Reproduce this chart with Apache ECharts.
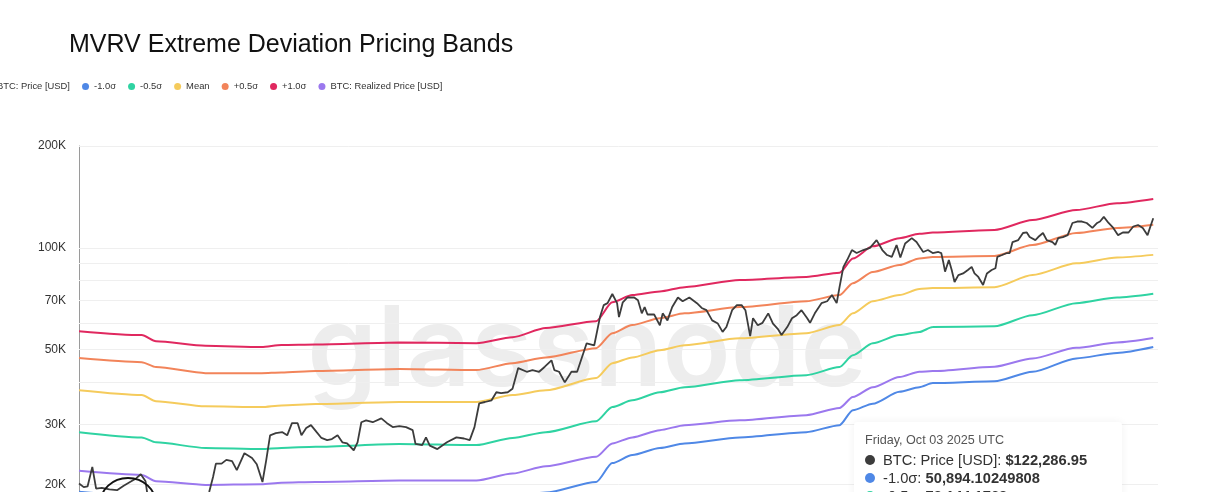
<!DOCTYPE html>
<html>
<head>
<meta charset="utf-8">
<script src="https://cdn.jsdelivr.net/npm/echarts@6/dist/echarts.min.js"></script>
<style>
html,body{margin:0;padding:0;background:#fff;overflow:hidden;}
#chart{width:1226px;height:650px;}
</style>
</head>
<body>
<div id="chart"></div>
<script>
// ---- data ----
const priceDates = ['2022-08-30','2022-09-04','2022-09-08','2022-09-13','2022-09-17','2022-09-23','2022-10-01','2022-10-09','2022-10-16','2022-10-24','2022-10-29','2022-11-03','2022-11-08','2022-11-12','2022-11-20','2022-12-03','2022-12-19','2023-01-01','2023-01-09','2023-01-14','2023-01-18','2023-01-21','2023-01-27','2023-02-01','2023-02-07','2023-02-12','2023-02-20','2023-02-28','2023-03-05','2023-03-11','2023-03-15','2023-03-19','2023-03-25','2023-04-01','2023-04-06','2023-04-11','2023-04-17','2023-04-21','2023-04-26','2023-05-01','2023-05-07','2023-05-12','2023-05-18','2023-05-23','2023-05-29','2023-06-03','2023-06-08','2023-06-15','2023-06-19','2023-06-23','2023-06-28','2023-07-05','2023-07-14','2023-07-20','2023-07-26','2023-08-02','2023-08-09','2023-08-16','2023-08-19','2023-08-26','2023-08-30','2023-09-03','2023-09-11','2023-09-21','2023-10-01','2023-10-09','2023-10-15','2023-10-20','2023-10-25','2023-10-31','2023-11-07','2023-11-12','2023-11-17','2023-11-24','2023-11-29','2023-12-05','2023-12-14','2023-12-20','2023-12-27','2024-01-02','2024-01-09','2024-01-12','2024-01-17','2024-01-23','2024-01-30','2024-02-05','2024-02-10','2024-02-15','2024-02-23','2024-02-29','2024-03-04','2024-03-08','2024-03-13','2024-03-18','2024-03-20','2024-03-24','2024-03-29','2024-04-05','2024-04-09','2024-04-13','2024-04-16','2024-04-19','2024-04-26','2024-05-02','2024-05-05','2024-05-10','2024-05-15','2024-05-21','2024-05-26','2024-06-02','2024-06-10','2024-06-15','2024-06-20','2024-06-26','2024-07-02','2024-07-07','2024-07-11','2024-07-17','2024-07-22','2024-07-27','2024-07-31','2024-08-05','2024-08-08','2024-08-13','2024-08-18','2024-08-24','2024-08-29','2024-09-03','2024-09-07','2024-09-13','2024-09-18','2024-09-23','2024-09-28','2024-10-04','2024-10-07','2024-10-12','2024-10-19','2024-10-25','2024-10-30','2024-11-04','2024-11-07','2024-11-11','2024-11-15','2024-11-20','2024-11-25','2024-12-02','2024-12-09','2024-12-16','2024-12-22','2024-12-27','2025-01-01','2025-01-06','2025-01-10','2025-01-15','2025-01-22','2025-01-27','2025-01-31','2025-02-03','2025-02-08','2025-02-13','2025-02-19','2025-02-22','2025-02-24','2025-02-26','2025-03-02','2025-03-05','2025-03-08','2025-03-12','2025-03-17','2025-03-22','2025-03-26','2025-03-29','2025-04-02','2025-04-07','2025-04-11','2025-04-16','2025-04-20','2025-04-22','2025-04-27','2025-05-02','2025-05-05','2025-05-08','2025-05-14','2025-05-19','2025-05-23','2025-05-26','2025-06-01','2025-06-04','2025-06-09','2025-06-13','2025-06-19','2025-06-22','2025-06-25','2025-06-30','2025-07-05','2025-07-10','2025-07-15','2025-07-20','2025-07-25','2025-07-31','2025-08-05','2025-08-08','2025-08-12','2025-08-17','2025-08-22','2025-08-27','2025-09-01','2025-09-07','2025-09-12','2025-09-17','2025-09-22','2025-09-27','2025-09-30','2025-10-03'];
const priceValues = [20100,19600,19700,22500,19400,19500,19300,19200,19800,20400,20800,21400,20400,17000,16600,16900,16800,16600,17300,19000,21000,23000,23000,23600,23400,22000,24700,23900,22900,20300,23600,27900,28300,28500,27900,30300,30300,27900,29300,29900,28500,27400,27000,27200,27900,26600,26400,25200,26600,30500,30900,30500,31300,30300,29500,29700,29500,28900,26300,26100,27500,26000,25400,26600,27500,27300,27000,29500,34700,35000,35400,37400,37200,37400,38300,44100,43000,43500,43000,44500,46500,43500,43000,40000,43000,43000,47400,52200,51500,62400,67700,68600,73000,68600,62400,69000,71300,71300,70000,64000,66800,63500,63500,59000,64000,61000,66800,71300,69500,71300,68600,66400,65400,61000,59700,56400,58300,65400,67700,67700,65400,54800,61900,59000,60000,64000,59700,57600,55200,58300,61900,63200,65400,61900,60000,64000,68600,69500,72500,68600,76500,87700,92000,98500,96500,98500,100000,105400,98500,95200,94000,101900,93600,103000,106800,104000,100000,97200,98500,96500,97200,96500,91000,85000,92000,86000,79200,83000,84000,86000,87800,84000,82000,77600,84000,86000,87000,94000,95200,96500,96500,104000,105400,110600,111000,107600,105400,107600,110600,105400,104000,102000,106800,107600,109000,118400,119600,119600,118400,114500,118400,119600,123400,118400,114500,109000,111000,111000,115600,116800,114500,109000,115600,122286.95];

const bandDates = ['2022-08-30','2022-11-04','2022-11-19','2023-01-10','2023-03-10','2023-03-31','2023-05-06','2023-08-02','2023-10-22','2023-11-29','2024-01-03','2024-02-25','2024-03-13','2024-04-03','2024-05-02','2024-05-28','2024-07-25','2024-10-03','2024-11-07','2024-11-21','2024-12-12','2025-01-09','2025-01-30','2025-02-13','2025-04-19','2025-05-29','2025-07-14','2025-08-26','2025-10-03'];
const minus1Values   = [19000,18500,17900,17200,17300,17400,17500,17700,17800,18500,18900,20300,23100,24400,25600,26400,27500,28500,29900,33100,34600,37500,38700,39800,40300,43000,47100,48900,50894.10249808];
const minus05Values  = [28500,27500,26600,25600,25400,25600,25800,26300,26100,27400,28500,30700,33800,35400,37400,38700,40600,42000,44400,48100,52200,55200,56400,58300,58600,63200,68600,71300,73144.1768];
const meanValues     = [37900,36700,35200,34000,33800,34200,34500,35000,35000,36700,37900,41200,45600,47400,49800,51500,54000,55900,59100,64000,69500,72500,75500,76000,76500,83100,90000,93600,95300];
const plus05Values   = [47200,45900,44400,42600,42600,42800,43200,43800,43500,45600,47400,50500,55900,59100,61900,64000,66800,69500,72500,78600,84800,88900,93000,94000,94600,101900,110600,114500,117000];
const plus1Values    = [56700,55200,52900,51300,50900,51600,51800,52500,52200,54400,57900,60700,69000,72500,74300,76500,80300,82000,84400,93000,101000,106800,110000,111000,112900,120800,129300,135500,139500];
const realizedValues = [21900,21300,20400,19900,20000,20200,20300,20500,20500,21500,22600,24100,26400,27500,28900,29900,30900,32000,33600,36200,38700,41500,43000,43200,44500,47100,50600,52500,54100];

const yTickLabels = [20000, 30000, 50000, 70000, 100000, 200000];
const gridValues  = [20000, 30000, 40000, 50000, 60000, 70000, 80000, 90000, 100000, 200000];

const seriesNames = ['BTC: Price [USD]', '-1.0σ', '-0.5σ', 'Mean', '+0.5σ', '+1.0σ', 'BTC: Realized Price [USD]'];
const seriesColors = ['#3c3c3c', '#4f88e6', '#2fd3a2', '#f5cb5c', '#f2845a', '#e0285f', '#9b78ee'];

// ---- chart ----
const FONT = "'Liberation Sans', Arial, Helvetica, sans-serif";
const chart = echarts.init(document.getElementById('chart'), null, {renderer: 'canvas'});

function pair(dates, vals) { return dates.map((d, i) => [d, vals[i]]); }
const bandSets = [minus1Values, minus05Values, meanValues, plus05Values, plus1Values];

const series = [];
series.push({
  name: seriesNames[0], type: 'line', data: pair(priceDates, priceValues),
  symbol: 'none', z: 4,
  lineStyle: {width: 1.8, color: seriesColors[0]}, itemStyle: {color: seriesColors[0]},
  emphasis: {disabled: true}
});
bandSets.forEach((vals, k) => {
  series.push({
    name: seriesNames[k + 1], type: 'line', data: pair(bandDates, vals),
    symbol: 'none', z: 3, smooth: 0.25, smoothMonotone: 'x',
    lineStyle: {width: 2, color: seriesColors[k + 1]}, itemStyle: {color: seriesColors[k + 1]},
    emphasis: {disabled: true}
  });
});
series.push({
  name: seriesNames[6], type: 'line', data: pair(bandDates, realizedValues),
  symbol: 'none', z: 3, smooth: 0.25, smoothMonotone: 'x',
  lineStyle: {width: 2, color: seriesColors[6]}, itemStyle: {color: seriesColors[6]},
  emphasis: {disabled: true}
});
// grid lines
series.push({
  name: '__grid', type: 'line', data: [], silent: true, z: 1,
  markLine: {
    silent: true, symbol: 'none', z: 1, animation: false,
    label: {show: false},
    lineStyle: {color: '#efefef', width: 1, type: 'solid'},
    emphasis: {disabled: true},
    data: gridValues.map(v => ({yAxis: v}))
  }
});

const weekdays = ['Sunday','Monday','Tuesday','Wednesday','Thursday','Friday','Saturday'];
const months = ['Jan','Feb','Mar','Apr','May','Jun','Jul','Aug','Sep','Oct','Nov','Dec'];
function fmtDate(ts) {
  const d = new Date(ts);
  const dd = String(d.getDate()).padStart(2, '0');
  return weekdays[d.getDay()] + ', ' + months[d.getMonth()] + ' ' + dd + ' ' + d.getFullYear() + ' UTC';
}

chart.setOption({
  animation: false,
  textStyle: {fontFamily: FONT},
  title: {
    text: 'MVRV Extreme Deviation Pricing Bands',
    left: 64, top: 28,
    textStyle: {fontSize: 25, fontWeight: 'normal', color: '#111', fontFamily: FONT}
  },
  legend: {
    data: seriesNames,
    left: -20, top: 77,
    icon: 'circle', itemWidth: 7, itemHeight: 7, itemGap: 12.1,
    textStyle: {fontSize: 9.4, color: '#333', fontFamily: FONT},
    selectedMode: false
  },
  graphic: [
    {
      type: 'text', z: 0, silent: true,
      style: {
        text: 'glassnode', x: 587, y: 352,
        textAlign: 'center', textVerticalAlign: 'middle',
        font: "600 112px Inter, 'Open Sans', sans-serif",
        fill: '#ededed'
      }
    },
    {
      type: 'ellipse', z: 20, silent: true,
      shape: {cx: 128, cy: 504, rx: 28, ry: 26},
      style: {fill: 'none', stroke: '#111', lineWidth: 2}
    }
  ],
  grid: {left: 79, right: 68, top: 146, bottom: 64, containLabel: false},
  xAxis: {
    type: 'time',
    min: '2022-08-30', max: '2025-10-08',
    axisLine: {show: true, lineStyle: {color: '#999'}},
    axisTick: {show: false},
    splitLine: {show: false},
    axisLabel: {color: '#555', fontSize: 11}
  },
  yAxis: {
    type: 'log', logBase: 10, min: 10000, max: 200000,
    axisLine: {show: true, lineStyle: {color: '#9a9a9a', width: 1}},
    axisTick: {show: false},
    splitLine: {show: false},
    minorSplitLine: {show: false},
    axisLabel: {
      customValues: yTickLabels,
      formatter: v => Math.round(v / 1000) + 'K',
      color: '#333', fontSize: 12, margin: 13, fontFamily: FONT
    }
  },
  tooltip: {
    trigger: 'axis',
    triggerOn: 'none',
    alwaysShowContent: true,
    transitionDuration: 0,
    axisPointer: {type: 'none'},
    position: [854, 422],
    backgroundColor: '#ffffff',
    borderWidth: 0,
    padding: [9, 10, 9, 11],
    extraCssText: 'box-shadow:0 0 8px rgba(0,0,0,0.06);border-radius:4px;',
    formatter: function (params) {
      const list = params.filter(p => p.seriesName !== '__grid');
      let html = '<div style="font-family:' + FONT.replace(/'/g, '') + ';">';
      html += '<div style="font-size:12.6px;color:#555;line-height:18px;margin-bottom:2px;">' + fmtDate(params[0].axisValue) + '</div>';
      list.forEach(p => {
        const v = p.value[1];
        const s = p.seriesIndex === 0
          ? '$' + v.toLocaleString('en-US', {minimumFractionDigits: 2, maximumFractionDigits: 2})
          : v.toLocaleString('en-US', {maximumFractionDigits: 8});
        html += '<div style="font-size:14.7px;line-height:18px;color:#333;white-space:nowrap;">'
          + '<span style="display:inline-block;width:10px;height:10px;border-radius:5px;background:' + p.color + ';margin-right:8px;"></span>'
          + p.seriesName + ': <b>' + s + '</b></div>';
      });
      html += '</div>';
      return html;
    }
  },
  series: series
});

chart.dispatchAction({type: 'showTip', seriesIndex: 0, dataIndex: priceValues.length - 1});
</script>
</body>
</html>
